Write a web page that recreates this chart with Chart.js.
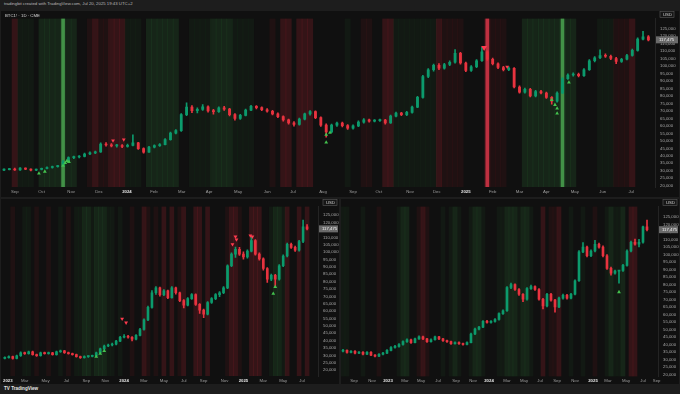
<!DOCTYPE html>
<html>
<head>
<meta charset="utf-8">
<script src="https://cdn.jsdelivr.net/npm/chart.js@4.4.1/dist/chart.umd.min.js"></script>
<style>
  html, body { margin: 0; padding: 0; width: 680px; height: 394px; overflow: hidden; background: #1d1d1d; font-family: "Liberation Sans", Arial, sans-serif; }
  .hdr { position: absolute; left: 4px; top: 1px; font-size: 4.3px; color: #b9b9b9; white-space: nowrap; }
  .ftr { position: absolute; left: 4px; top: 386px; font-size: 4.6px; color: #e6e6e6; font-weight: bold; white-space: nowrap; }
  canvas { position: absolute; }
</style>
</head>
<body>
<div class="hdr">tradingbit created with TradingView.com, Jul 20, 2025 19:43 UTC+2</div>
<canvas id="topChart" width="678" height="186" style="left:1px;top:11px"></canvas>
<canvas id="leftChart" width="338" height="185" style="left:1px;top:199px"></canvas>
<canvas id="rightChart" width="338" height="185" style="left:341px;top:199px"></canvas>
<div class="ftr">TV TradingView</div>
<script>
// ===== DATA (prices in thousands of USD) =====
const priceTicks = [20, 25, 30, 35, 40, 45, 50, 55, 60, 65, 70, 75, 80, 85, 90, 95, 100, 105, 110, 115, 120, 125];

// top pane: candle index positions of the month labels
const topMonthPos = [2, 7, 12.5, 17.7, 22.9, 27.9, 33.1, 38.2, 43.6, 49, 53.8, 59.4, 65, 69.8, 75.6, 80.6, 86, 91, 96, 101, 106.3, 111.5, 116.8];
const topMonthLabels = ["Sep", "Oct", "Nov", "Dec", "2024", "Feb", "Mar", "Apr", "May", "Jun", "Jul", "Aug", "Sep", "Oct", "Nov", "Dec", "2025", "Feb", "Mar", "Apr", "May", "Jun", "Jul"];

// [open, high, low, close]
const topCandles = [
  [30.4,31.3,30.0,30.8],[30.8,31.6,30.5,31.2],[31.2,31.8,30.2,30.5],[30.5,32.2,30.3,31.8],[31.8,32.0,30.7,31.0],
  [31.0,31.3,29.9,30.4],[30.4,31.2,30.0,30.9],[30.9,31.8,30.6,31.5],[31.5,32.6,31.2,32.2],[32.2,33.1,31.8,32.8],
  [32.8,33.6,32.4,33.2],[33.2,36.8,33.0,36.0],[36.0,39.3,35.6,38.8],[38.8,39.8,38.1,39.2],[39.2,40.2,38.6,39.6],
  [39.6,41.8,39.2,41.2],[41.2,42.6,40.7,42.0],[42.0,43.2,41.4,42.6],[42.6,48.6,42.3,47.9],[47.9,48.8,46.5,47.2],
  [47.2,48.1,45.9,46.6],[46.6,47.6,45.8,46.9],[46.9,47.5,45.4,46.2],[46.2,47.8,45.8,47.0],[47.0,54.0,46.6,48.6],
  [48.6,49.0,44.2,44.8],[44.8,45.3,41.8,42.5],[42.5,46.4,42.2,45.8],[45.8,47.3,45.2,46.8],[46.8,48.2,46.3,47.5],
  [47.5,51.5,47.2,50.8],[50.8,55.9,50.4,55.2],[55.2,57.6,54.6,56.8],[56.8,68.3,56.3,67.5],[67.5,75.4,66.8,72.5],
  [72.5,73.6,68.9,70.2],[70.2,72.0,68.6,71.0],[71.0,74.3,70.3,72.8],[72.8,73.4,69.2,70.0],[70.0,71.1,67.8,69.5],
  [69.5,72.8,69.0,72.0],[72.0,73.1,70.4,71.2],[71.2,71.8,66.6,67.5],[67.5,68.2,63.8,65.0],[65.0,67.8,64.4,67.0],
  [67.0,71.3,66.6,70.5],[70.5,73.8,70.1,73.0],[73.0,73.6,71.4,72.2],[72.2,72.8,70.2,70.8],[70.8,71.5,69.1,69.8],
  [69.8,70.4,67.4,68.0],[68.0,68.7,65.5,66.2],[66.2,66.8,63.2,64.0],[64.0,64.6,61.2,62.0],[62.0,62.9,59.8,61.0],
  [61.0,65.2,60.5,64.5],[64.5,68.6,64.0,68.0],[68.0,70.3,67.2,69.5],[69.5,70.0,64.8,65.5],[65.5,66.0,59.6,60.5],
  [60.5,61.3,52.5,56.0],[56.0,61.2,55.4,60.5],[60.5,62.6,59.7,61.8],[61.8,62.5,59.3,60.2],[60.2,60.8,57.6,58.5],
  [58.5,60.7,57.8,60.0],[60.0,63.3,59.4,62.5],[62.5,64.8,61.8,64.0],[64.0,64.6,62.4,63.2],[63.2,64.2,62.6,63.5],
  [63.5,64.6,62.9,63.8],[63.8,64.3,61.2,62.0],[62.0,67.2,61.6,66.5],[66.5,69.3,66.0,68.5],[68.5,69.1,66.8,67.5],
  [67.5,69.8,66.9,69.0],[69.0,73.3,68.5,72.5],[72.5,79.8,72.1,79.0],[79.0,93.8,78.6,93.0],[93.0,98.3,92.2,97.5],
  [97.5,101.3,96.6,100.5],[100.5,101.6,97.6,98.5],[98.5,101.8,97.9,101.0],[101.0,103.4,100.2,102.5],[102.5,111.0,101.9,108.5],
  [108.5,109.1,101.2,102.0],[102.0,102.7,96.2,97.0],[97.0,100.3,96.4,99.5],[99.5,104.3,98.9,103.5],[103.5,112.5,103.0,109.5],
  [109.5,110.2,103.7,104.5],[104.5,105.3,100.8,101.5],[101.5,102.2,98.2,99.0],[99.0,99.8,96.7,97.5],[97.5,99.4,96.9,98.5],
  [98.5,99.0,85.3,86.0],[86.0,86.7,81.8,82.5],[82.5,85.3,81.9,84.5],[84.5,85.1,79.3,80.0],[80.0,83.8,79.4,83.0],
  [83.0,83.7,81.3,82.0],[82.0,82.6,78.3,79.0],[79.0,79.6,74.5,76.5],[76.5,82.8,75.9,82.0],[82.0,92.3,81.6,91.5],
  [91.5,94.8,91.0,94.0],[94.0,95.4,93.2,94.5],[94.5,95.2,92.8,93.5],[93.5,98.3,93.0,97.5],[97.5,104.3,97.1,103.5],
  [103.5,106.3,102.8,105.5],[105.5,110.8,104.9,107.0],[107.0,108.2,105.8,106.5],[106.5,107.3,104.3,105.0],[105.0,105.8,101.6,103.0],
  [103.0,105.2,102.4,104.5],[104.5,107.8,104.0,107.0],[107.0,111.3,106.5,110.5],[110.5,118.8,110.0,118.0],[118.0,123.2,117.4,119.5],
  [119.5,120.3,116.8,117.5]
];
// regime shading per candle: . none, g/G green, L strong green, r/R red, X strong red
const topRegime = "..Rggg.GGGGLGG..rRrrRRRggg.GGGGGG..ggggGGGGgggg...r.RR.RRR......g..rr..RRggggggggRrrrr....Xrrr...GGGGGGGLGG....gggrrrR....";
const topBuys = [[6.5,28.2],[7.6,29.5],[11,33.4],[11.4,35.3],[11.7,36.6],[12.1,36.0],[60,48.9],[60,54.1],[60.7,55.4],[102,77.4],[102.6,74.1],[103,71.6],[103,68.3],[105.2,89.0]];
const topSells = [[20.3,50.2],[22.3,50.9],[89.4,112.3],[93.7,99.4]];

// bottom-left pane
const leftMonthPos = [0.75, 5, 10.25, 15.5, 20.5, 25.25, 30, 35, 40, 45, 50, 55.25, 60, 65, 70, 74.75];
const leftMonthLabels = ["2023", "Mar", "May", "Jul", "Sep", "Nov", "2024", "Mar", "May", "Jul", "Sep", "Nov", "2025", "Mar", "May", "Jul"];
const leftCandles = [
  [28.0,29.0,27.6,28.5],[28.5,29.8,28.1,29.2],[29.2,29.6,27.4,27.9],[27.9,30.3,27.6,29.8],[29.8,32.4,29.4,31.8],
  [31.8,32.3,30.7,31.2],[31.2,33.0,30.9,32.5],[32.5,32.9,30.1,30.5],[30.5,30.9,29.3,29.8],[29.8,32.3,29.5,31.8],
  [31.8,32.2,30.8,31.2],[31.2,32.3,30.9,31.8],[31.8,32.1,30.1,30.5],[30.5,33.0,30.2,32.5],[32.5,33.7,32.1,33.1],
  [33.1,33.5,31.3,31.8],[31.8,32.2,30.8,31.2],[31.2,31.6,30.1,30.5],[30.5,30.9,28.8,29.2],[29.2,29.6,28.0,28.5],
  [28.5,29.7,28.2,29.2],[29.2,29.8,28.7,29.4],[29.4,30.3,29.0,29.8],[29.8,32.3,29.5,31.8],[31.8,35.0,31.4,34.4],
  [34.4,37.0,34.0,36.4],[36.4,37.7,35.9,37.1],[37.1,38.3,36.5,37.7],[37.7,40.3,37.2,39.7],[39.7,42.9,39.3,42.3],
  [42.3,44.2,41.8,43.0],[43.0,43.6,41.7,42.3],[42.3,42.8,39.9,41.0],[41.0,44.2,40.6,43.6],[43.6,48.3,43.2,47.6],
  [47.6,54.8,47.1,54.1],[54.1,63.4,53.6,62.6],[62.6,73.9,62.0,72.5],[72.5,76.6,71.4,75.8],[75.8,76.4,70.2,71.2],
  [71.2,74.6,70.5,73.8],[73.8,74.3,68.4,69.2],[69.2,76.6,68.8,75.8],[75.8,76.3,71.6,72.5],[72.5,73.0,66.4,67.2],
  [67.2,67.8,62.2,64.0],[64.0,69.2,63.5,68.5],[68.5,72.0,67.9,71.2],[71.2,71.8,63.9,64.6],[64.6,65.2,58.4,60.7],
  [60.7,61.4,55.6,58.0],[58.0,66.5,57.5,65.9],[65.9,69.2,65.2,68.5],[68.5,71.9,67.8,71.2],[71.2,73.2,69.9,72.5],
  [72.5,76.6,71.8,75.8],[75.8,91.5,75.2,90.8],[90.8,99.5,90.2,98.7],[98.7,103.4,96.5,102.0],[102.0,103.2,97.8,98.7],
  [98.7,100.3,95.2,96.8],[96.8,101.5,95.9,100.7],[100.7,110.5,100.1,107.9],[107.9,108.6,97.9,98.7],[98.7,99.6,94.6,95.4],
  [95.4,96.1,87.8,88.9],[88.9,89.6,79.5,81.7],[81.7,85.2,80.6,84.3],[84.3,85.0,76.5,81.7],[81.7,91.6,81.0,90.8],
  [90.8,98.2,90.1,97.4],[97.4,106.1,96.8,105.3],[105.3,106.2,102.6,103.3],[103.3,104.2,100.5,101.3],[101.3,108.0,100.7,107.2],
  [107.2,121.7,106.5,117.1],[117.1,118.7,115.0,115.8]
];
const leftRegime = "..r..gg.r..r..g.r.ggGGgGGGgg.g..r..Rr.r.R.R.rR..RR.R....rRRr..RRR..gGGgR..R.R";
const leftBuys = [[23,29.2],[24,31.2],[25,33.1],[67.5,71.8],[68,76.4]];
const leftSells = [[29.5,54.8],[30.5,52.2],[57.25,105.3],[58,110.5],[58.25,108.6],[61.75,111.2],[62.25,110.5]];

// bottom-right pane
const rightMonthPos = [2.75, 7.25, 11.25, 15.5, 19.5, 23.75, 28.25, 32.5, 36.5, 41, 45.25, 49.25, 53.5, 58, 62.5, 66.25, 70.75, 75, 78.4];
const rightMonthLabels = ["Sep", "Nov", "2023", "Mar", "May", "Jul", "Sep", "Nov", "2024", "Mar", "May", "Jul", "Sep", "Nov", "2025", "Mar", "May", "Jul", "Sep"];
const rightCandles = [
  [35.5,36.8,35.0,36.1],[36.1,36.5,34.3,34.8],[34.8,36.0,34.4,35.5],[35.5,35.9,33.8,34.2],[34.2,35.3,33.9,34.8],
  [34.8,35.2,33.0,33.5],[33.5,35.3,33.2,34.8],[34.8,35.2,32.5,32.9],[32.9,33.3,31.7,32.2],[32.2,34.0,31.9,33.5],
  [33.5,34.7,33.1,34.2],[34.2,36.6,33.9,36.1],[36.1,38.6,35.8,38.0],[38.0,39.4,37.5,38.7],[38.7,40.6,38.3,40.0],
  [40.0,42.5,39.6,41.9],[41.9,43.8,41.4,43.2],[43.2,43.7,40.8,41.3],[41.3,44.3,41.0,43.8],[43.8,45.8,43.4,45.1],
  [45.1,45.6,43.3,43.8],[43.8,44.2,41.4,41.9],[41.9,43.8,41.5,43.2],[43.2,45.7,42.9,45.1],[45.1,45.5,43.3,43.8],
  [43.8,44.2,42.0,42.5],[42.5,42.9,41.4,41.9],[41.9,42.3,40.1,40.6],[40.6,41.8,40.2,41.3],[41.3,41.7,40.1,40.6],
  [40.6,41.0,39.5,40.0],[40.0,41.8,39.7,41.3],[41.3,47.6,41.0,47.0],[47.0,50.9,46.5,50.3],[50.3,52.2,49.8,51.6],
  [51.6,56.0,51.2,55.4],[55.4,56.1,54.2,54.8],[54.8,56.0,54.3,55.4],[55.4,57.3,54.9,56.7],[56.7,61.2,56.2,60.6],
  [60.6,63.1,60.1,62.5],[62.5,78.6,62.0,78.0],[78.0,81.0,77.3,79.9],[79.9,80.5,76.1,76.7],[76.7,77.3,72.8,73.5],
  [73.5,74.0,68.5,70.2],[70.2,78.0,69.6,77.3],[77.3,79.6,76.8,78.6],[78.6,79.2,76.0,76.7],[76.7,77.3,69.6,70.2],
  [70.2,70.8,63.8,65.7],[65.7,74.2,65.1,73.5],[73.5,74.1,68.9,69.6],[69.6,70.2,61.5,65.1],[65.1,71.6,64.6,70.9],
  [70.9,73.6,70.3,72.8],[72.8,73.4,70.2,70.9],[70.9,74.2,70.4,73.5],[73.5,83.2,73.0,82.5],[82.5,102.6,82.0,101.8],
  [101.8,108.0,101.2,105.0],[105.0,105.7,98.5,99.2],[99.2,103.2,98.6,102.4],[102.4,109.5,101.8,106.9],[106.9,107.6,104.2,105.0],
  [105.0,105.8,98.4,99.2],[99.2,99.9,90.0,90.8],[90.8,91.6,86.2,87.6],[87.6,89.7,86.9,88.9],[88.9,89.5,80.9,89.4],
  [89.4,93.5,88.8,92.8],[92.8,103.1,92.2,102.4],[102.4,109.0,101.8,108.2],[108.2,110.3,106.2,106.9],[106.9,110.1,105.1,108.2],
  [108.2,119.0,107.6,118.5],[118.5,123.0,115.8,116.6]
];
const rightRegime = "gg...g...r....gGG..rRr...g.gGg..gGGg...ggGGGgGGg..R.rrR..g..g..r..gGggG.RR....";
const rightBuys = [[69,75.0]];
const rightSells = [];

// ===== STYLE =====
const UP = "#0c9a6c";
const DOWN = "#e8333f";
const BAND = {
  ".": "rgba(0,0,0,0)",
  "g": "rgba(40,110,50,0.10)",
  "G": "rgba(50,130,60,0.19)",
  "L": "rgba(50,130,60,0.19)",
  "r": "rgba(130,30,35,0.14)",
  "R": "rgba(150,35,45,0.27)",
  "X": "rgba(150,35,45,0.27)"
};
const STRONG = { "L": "rgba(80,175,85,0.78)", "X": "rgba(225,55,75,0.8)" };
const FONT = "Liberation Sans";

const paneDeco = {
  id: "paneDeco",
  beforeDraw(chart) {
    const { ctx } = chart;
    ctx.save();
    ctx.fillStyle = "#101010";
    ctx.fillRect(0, 0, chart.width, chart.height);
    ctx.restore();
  },
  afterDraw(chart, args, o) {
    const { ctx, chartArea: a } = chart;
    const y = chart.scales.y;
    ctx.save();
    ctx.font = "4.3px " + FONT;
    ctx.textBaseline = "middle";
    // USD box
    const bx = a.right + 5, bw = 14;
    ctx.strokeStyle = "#5a5a5a";
    ctx.lineWidth = 0.6;
    ctx.fillStyle = "#161616";
    ctx.fillRect(bx, 0.5, bw, 6);
    ctx.strokeRect(bx, 0.5, bw, 6);
    ctx.fillStyle = "#d0d0d0";
    ctx.fillText("USD", bx + 3, 3.6);
    // last price tag
    const py = y.getPixelForValue(o.last);
    ctx.fillStyle = "#6a6a6a";
    ctx.fillRect(a.right + 1, py - 3.5, chart.width - a.right - 2, 7);
    ctx.fillStyle = "#f2f2f2";
    ctx.fillText(o.lastLabel, a.right + 4, py);
    // title
    if (o.title) {
      ctx.fillStyle = "#d8d8d8";
      ctx.fillText(o.title, 4, 4.5);
    }
    ctx.restore();
  }
};

function makePane(id, p) {
  const colors = p.candles.map(c => (c[3] >= c[0] ? UP : DOWN));
  const last = p.candles[p.candles.length - 1][3];
  const codes = p.regime.split("");
  const strongIdx = codes.map((k, i) => i).filter(i => STRONG[codes[i]]);
  new Chart(document.getElementById(id), {
    type: "bar",
    data: {
      datasets: [
        {
          data: codes.map((k, i) => ({ x: i, y: [0, 1] })),
          backgroundColor: codes.map(k => BAND[k]),
          yAxisID: "yb", grouped: false, barPercentage: 1, categoryPercentage: 1, order: 10
        },
        {
          data: strongIdx.map(i => ({ x: i, y: [0, 1] })),
          backgroundColor: strongIdx.map(i => STRONG[codes[i]]),
          yAxisID: "yb", grouped: false, barThickness: 3, order: 9
        },
        {
          data: p.candles.map((c, i) => ({ x: i, y: [c[2], c[1]] })),
          backgroundColor: colors, barThickness: 1, grouped: false, order: 3
        },
        {
          data: p.candles.map((c, i) => ({ x: i, y: [c[0], c[3]] })),
          backgroundColor: colors, barThickness: p.bodyW, grouped: false, minBarLength: 1, order: 2
        },
        {
          type: "line", showLine: false, order: 1,
          data: p.buys.map(b => ({ x: b[0], y: b[1] })),
          pointStyle: "triangle", pointRadius: 2.2, pointBorderWidth: 0,
          pointBackgroundColor: "#43c24e"
        },
        {
          type: "line", showLine: false, order: 1,
          data: p.sells.map(s => ({ x: s[0], y: s[1] })),
          pointStyle: "triangle", pointRotation: 180, pointRadius: p.sells.map(s => (s[1] > 112 ? 3.4 : 2.2)), pointBorderWidth: 0,
          pointBackgroundColor: "#ff3b4e"
        }
      ]
    },
    options: {
      responsive: false,
      animation: false,
      devicePixelRatio: 1,
      layout: { autoPadding: false, padding: { top: 2, left: 0, right: 0, bottom: 0 } },
      plugins: {
        legend: { display: false },
        tooltip: { enabled: false },
        paneDeco: { last: last, lastLabel: p.lastLabel, title: p.title }
      },
      scales: {
        x: {
          type: "linear", min: p.xMin, max: p.xMax, offset: false,
          grid: { display: false, drawTicks: false }, border: { display: false },
          afterBuildTicks: s => { s.ticks = p.tickPos.map(v => ({ value: v })); },
          afterFit: s => { s.height = p.axisH; },
          ticks: {
            autoSkip: false, maxRotation: 0, padding: 2,
            color: c => (/^\d{4}$/.test(p.tickLabels[c.index]) ? "#e4e4e4" : "#9d9d9d"),
            font: c => ({ family: FONT, size: 4.3, weight: /^\d{4}$/.test(p.tickLabels[c.index]) ? "bold" : "normal" }),
            callback: (v, i) => p.tickLabels[i]
          }
        },
        y: {
          position: "right", min: p.yMin, max: p.yMax,
          grid: { display: false, drawTicks: false }, border: { color: "#242424" },
          afterBuildTicks: s => { s.ticks = priceTicks.map(v => ({ value: v })); },
          afterFit: s => { s.width = p.axisW; },
          ticks: {
            autoSkip: false, padding: 5, color: "#a8a8a8",
            font: { family: FONT, size: 4.3 },
            callback: v => (v * 1000).toLocaleString("en-US")
          }
        },
        yb: { display: false, min: 0, max: 1 }
      }
    },
    plugins: [paneDeco]
  });
}

makePane("topChart", {
  candles: topCandles, regime: topRegime, buys: topBuys, sells: topSells,
  tickPos: topMonthPos, tickLabels: topMonthLabels,
  xMin: -0.56, xMax: 121.23, yMin: 19.16, yMax: 131.7,
  axisW: 24, axisH: 10, bodyW: 2.2, lastLabel: "117,475", title: "BTC1! \u00b7 1D \u00b7 CME"
});
makePane("leftChart", {
  candles: leftCandles, regime: leftRegime, buys: leftBuys, sells: leftSells,
  tickPos: leftMonthPos, tickLabels: leftMonthLabels,
  xMin: -0.5, xMax: 78.75, yMin: 16.06, yMax: 130.9,
  axisW: 21, axisH: 8, bodyW: 2, lastLabel: "117,475", title: ""
});
makePane("rightChart", {
  candles: rightCandles, regime: rightRegime, buys: rightBuys, sells: rightSells,
  tickPos: rightMonthPos, tickLabels: rightMonthLabels,
  xMin: -0.5, xMax: 78.75, yMin: 18.71, yMax: 132.0,
  axisW: 21, axisH: 7, bodyW: 2, lastLabel: "117,475", title: ""
});
</script>
</body>
</html>
